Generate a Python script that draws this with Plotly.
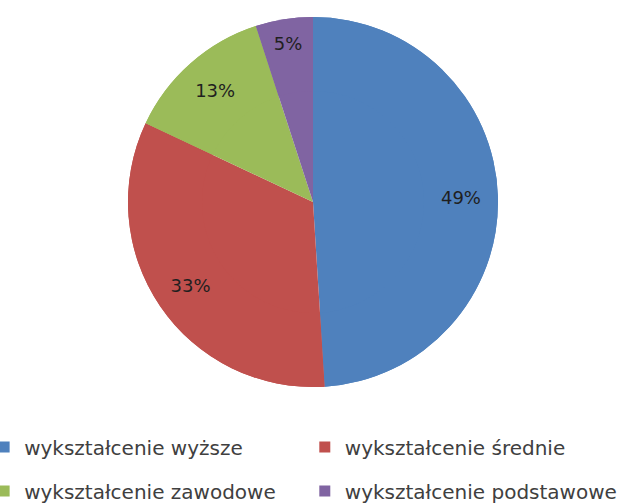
import plotly.graph_objects as go

# ===== Data =====
labels = ["wykształcenie wyższe", "wykształcenie średnie",
          "wykształcenie zawodowe", "wykształcenie podstawowe"]
values = [49, 33, 13, 5]
colors = ["#4F81BD", "#C0504D", "#9BBB59", "#8064A2"]

pie_domain = dict(x=[128 / 635, 498 / 635], y=[1 - 387 / 504, 1 - 17 / 504])

fig = go.Figure()

# full pie underneath (no text)
fig.add_trace(go.Pie(
    labels=labels, values=values, sort=False, direction="clockwise",
    marker=dict(colors=colors, line=dict(width=0)),
    textinfo="none", domain=pie_domain, showlegend=False,
    hoverinfo="skip",
))

# same pie on top with a hole, so the percent labels sit further out
fig.add_trace(go.Pie(
    labels=labels, values=values, sort=False, direction="clockwise",
    hole=0.6,
    marker=dict(colors=colors, line=dict(width=0)),
    texttemplate="%{percent:.0%}",
    textposition="inside",
    insidetextorientation="horizontal",
    textfont=dict(family="DejaVu Sans", size=18, color="#1f1f1f"),
    domain=pie_domain, showlegend=False,
    hoverinfo="label+percent",
))

# legend entries: one small legend per entry, laid out 2 x 2
legend_pos = [(-0.025, 0.113), (0.480, 0.113), (-0.025, 0.026), (0.480, 0.026)]
legend_names = ["legend", "legend2", "legend3", "legend4"]
for lab, col, lname in zip(labels, colors, legend_names):
    fig.add_trace(go.Scatter(
        x=[None], y=[None], mode="markers", name=lab,
        marker=dict(symbol="square", size=11, color=col),
        legend=lname,
    ))

legend_style = dict(
    orientation="h", xanchor="left", yanchor="middle",
    font=dict(family="DejaVu Sans", size=20, color="#404040"),
    bgcolor="rgba(0,0,0,0)",
)
legends = {}
for lname, (lx, ly) in zip(legend_names, legend_pos):
    legends[lname] = dict(x=lx, y=ly, **legend_style)

fig.update_layout(
    width=635, height=504,
    margin=dict(l=0, r=0, t=0, b=0, autoexpand=False),
    paper_bgcolor="white",
    plot_bgcolor="white",
    xaxis=dict(visible=False),
    yaxis=dict(visible=False),
    **legends,
)

# drop the default page margin so the figure fills the window
fig.write_html("out.html", config={"displayModeBar": False},
               post_script="document.body.style.margin = '0';")
